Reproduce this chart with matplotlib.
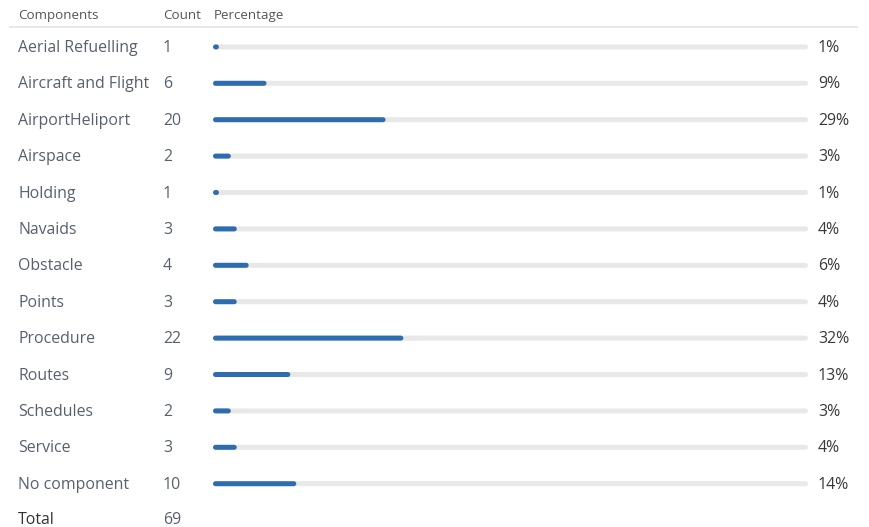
import matplotlib
matplotlib.use("Agg")
import matplotlib.pyplot as plt

plt.rcParams["font.family"] = ["Open Sans", "DejaVu Sans"]

# Données
composants = ["Aerial Refuelling", "Aircraft and Flight", "AirportHeliport", "Airspace",
              "Holding", "Navaids", "Obstacle", "Points", "Procedure", "Routes",
              "Schedules", "Service", "No component"]
nombres = [1, 6, 20, 2, 1, 3, 4, 3, 22, 9, 2, 3, 10]
pourcentages = [1, 9, 29, 3, 1, 4, 6, 4, 32, 13, 3, 4, 14]
total = 69

W, H = 869, 527
y0, pas = 48, 36.4
ybas, yhaut = (H - y0) / pas, -y0 / pas

fig = plt.figure(figsize=(W / 100, H / 100), dpi=100)
ax = fig.add_axes([0, 0, 1, 1])
ax.set_xlim(0, W)
ax.set_ylim(ybas, yhaut)
ax.axis("off")

# barres dans leur propre axe (0..100 %)
largeur = 595
axb = fig.add_axes([213 / W, 0, largeur / W, 1])
axb.set_xlim(0, 100)
axb.set_ylim(ybas, yhaut)
axb.axis("off")

bleu = "#2e6cb0"
gris = "#e8e8e8"
lw_px = 5
r = lw_px / 2 / largeur * 100  # rayon du bout arrondi, en %

# entête
ax.text(18, -0.88, "Components", fontsize=9.6, color="#555555", va="center")
ax.text(163, -0.88, "Count", fontsize=9.6, color="#555555", va="center")
ax.text(214, -0.88, "Percentage", fontsize=9.6, color="#555555", va="center")
ax.plot([10, 857], [-0.58, -0.58], color="#e3e3e3", lw=1.2)

taille = 11.4
for i, (c, n, p) in enumerate(zip(composants, nombres, pourcentages)):
    ax.text(18, i, c, fontsize=taille, color="#56606e", va="center")
    ax.text(163, i, str(n), fontsize=taille, color="#56606e", va="center")
    ax.text(818, i, f"{p}%", fontsize=taille, color="#3a3a3a", va="center")
    axb.plot([r, 100 - r], [i - 0.03, i - 0.03], color=gris, lw=lw_px * 0.72,
             solid_capstyle="round", snap=False)
    axb.plot([r, max(p - r, r + 0.05)], [i - 0.03, i - 0.03], color=bleu,
             lw=lw_px * 0.72, solid_capstyle="round", snap=False)

ax.text(18, (520 - y0) / pas, "Total", fontsize=taille, color="#333333", va="center")
ax.text(163, (520 - y0) / pas, str(total), fontsize=taille, color="#56606e", va="center")

fig.savefig("out.png", dpi=100, facecolor="white")
